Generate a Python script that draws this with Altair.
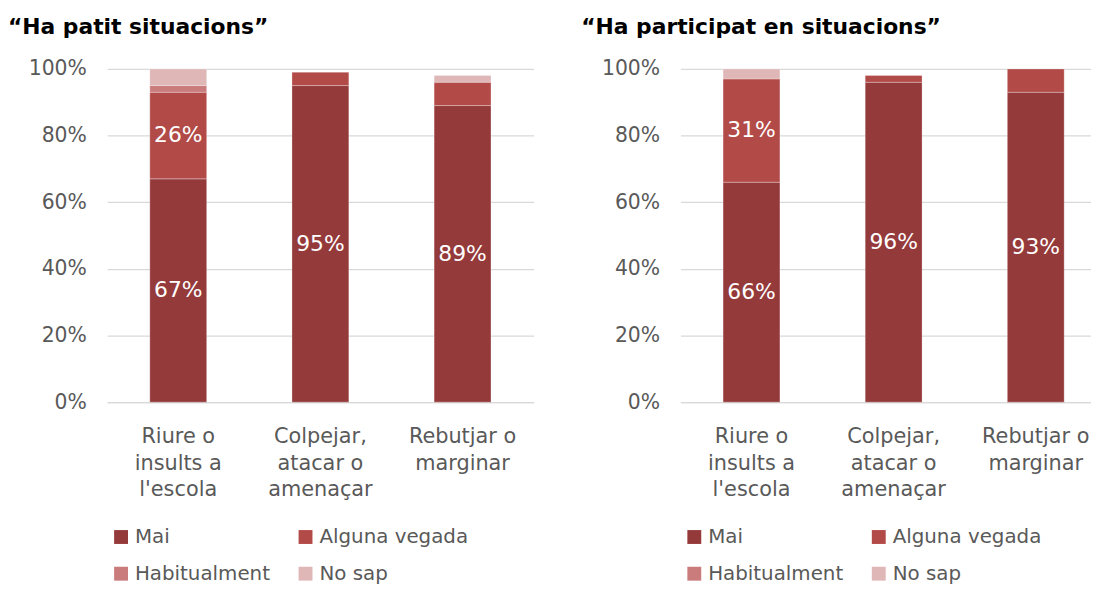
import altair as alt
import pandas as pd

categories = ["Riure o\ninsults a\nl'escola", "Colpejar,\natacar o\namenaçar", "Rebutjar o\nmarginar"]
series = ["Mai", "Alguna vegada", "Habitualment", "No sap"]
colors = ["#953A3A", "#B24A48", "#CA7B7B", "#E0B7B7"]

left_title = "“Ha patit situacions”"
left_mai = [67, 95, 89]
left_alguna = [26, 4, 7]
left_habitualment = [2, 0, 0]
left_nosap = [5, 0, 2]

right_title = "“Ha participat en situacions”"
right_mai = [66, 96, 93]
right_alguna = [31, 2, 7]
right_habitualment = [0, 0, 0]
right_nosap = [3, 0, 0]

y_ticks = [0, 20, 40, 60, 80, 100]

FONT = "DejaVu Sans"
GRAY = "#595959"


def make_df(cols):
    rows = []
    for si, (s, vals) in enumerate(zip(series, cols)):
        for c, v in zip(categories, vals):
            rows.append({"cat": c, "serie": s, "ord": si, "value": v})
    return pd.DataFrame(rows)


def panel(df, title, width, xscale):
    base = alt.Chart(df).transform_filter("datum.value > 0").transform_stack(
        stack="value", groupby=["cat"], sort=[alt.SortField("ord", order="ascending")], as_=["v0", "v1"]
    )
    x = alt.X(
        "cat:N", sort=categories, scale=xscale, title=None,
        axis=alt.Axis(labelAngle=0, labelExpr="split(datum.label, '\\n')", labelFont=FONT,
                      labelFontSize=21, labelColor=GRAY, labelLineHeight=26.5, labelPadding=24,
                      ticks=False, domainColor="#d9d9d9", domainWidth=1.3, labelLimit=200),
    )
    bars = base.mark_bar(stroke="white", strokeWidth=0.8, strokeOpacity=0.35).encode(
        x=x,
        y=alt.Y("v0:Q", scale=alt.Scale(domain=[0, 100]), title=None,
                axis=alt.Axis(values=y_ticks, labelExpr="datum.value + '%'", labelFont=FONT,
                              labelFontSize=20.5, labelColor=GRAY, labelPadding=21, ticks=False,
                              domain=False, gridColor="#d9d9d9", gridWidth=1.3)),
        y2="v1:Q",
        color=alt.Color("serie:N", scale=alt.Scale(domain=series, range=colors),
                        legend=alt.Legend(orient="none", legendX=4, legendY=462, columns=2,
                                          direction="horizontal",
                                          columnPadding=25, rowPadding=17, symbolType="square",
                                          symbolSize=196, symbolStrokeWidth=0, labelFont=FONT,
                                          labelFontSize=20, labelColor=GRAY, labelOffset=4,
                                          padding=0, title=None, labelLimit=300)),
    )
    text = base.transform_filter("datum.value >= 10").transform_calculate(
        mid="(datum.v0 + datum.v1) / 2", lab="datum.value + '%'"
    ).mark_text(color="white", font=FONT, fontSize=22).encode(
        x=x, y=alt.Y("mid:Q"), text="lab:N"
    )
    return alt.layer(bars, text).properties(
        width=width, height=336,
        title=alt.TitleParams(title, anchor="start", frame="group", dx=-100, fontSize=22,
                              fontWeight="bold", color="black", font=FONT, offset=3,
                              baseline="alphabetic"),
    )


left = panel(make_df([left_mai, left_alguna, left_habitualment, left_nosap]), left_title, 430,
             alt.Scale(paddingInner=0.6, paddingOuter=0.3))
right = panel(make_df([right_mai, right_alguna, right_habitualment, right_nosap]), right_title, 414,
              alt.Scale(paddingInner=0.6, paddingOuter=0.2445, align=0.614))

chart = alt.hconcat(left, right, spacing=48).resolve_scale(color="independent").resolve_legend(
    color="independent"
).properties(padding={"left": 0, "top": 6, "right": 0, "bottom": 0}).configure_view(stroke=None)

chart.save("out.html", embed_options={"renderer": "svg", "actions": False})
